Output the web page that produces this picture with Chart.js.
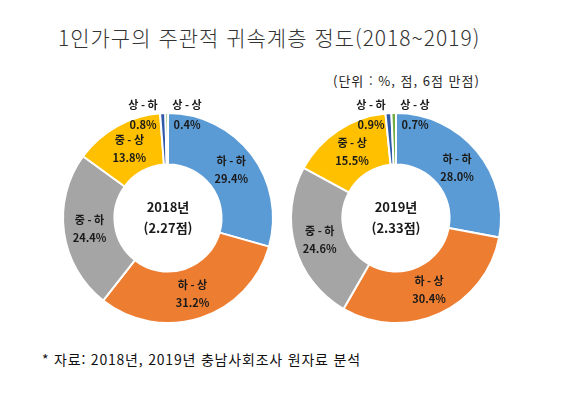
<!DOCTYPE html>
<html lang="ko">
<head>
<meta charset="utf-8">
<script src="https://cdn.jsdelivr.net/npm/chart.js@4.4.1/dist/chart.umd.min.js"></script>
<style>
  html, body { margin: 0; padding: 0; background: #fff; }
  body { width: 567px; height: 396px; position: relative; overflow: hidden;
         font-family: "Noto Sans CJK KR", "Noto Sans", sans-serif; }
  .title { position: absolute; left: 58px; top: 22px; font-weight: 300;
           font-size: 21px; color: #333; letter-spacing: 1px; white-space: nowrap; }
  .unit { position: absolute; left: 333px; top: 71px; font-size: 13px; color: #222;
          letter-spacing: 1px; white-space: nowrap; }
  .note { position: absolute; left: 42px; top: 349px; font-size: 14px; color: #111;
          letter-spacing: 0.8px; white-space: nowrap; }
  .pie { position: absolute; top: 88px; width: 260px; height: 260px; }
</style>
</head>
<body>
<div class="title">1인가구의 주관적 귀속계층 정도(2018~2019)</div>
<div class="unit">(단위 : %, 점, 6점 만점)</div>
<div class="pie" style="left:38px"><canvas id="pie2018" width="260" height="260"></canvas></div>
<div class="pie" style="left:266px"><canvas id="pie2019" width="260" height="260"></canvas></div>
<div class="note">* 자료: 2018년, 2019년 충남사회조사 원자료 분석</div>

<script>
// 계층 구분 (12시 방향부터 시계방향)
const CLASSES = ['하 - 하', '하 - 상', '중 - 하', '중 - 상', '상 - 하', '상 - 상'];
const COLORS = ['#5b9bd5', '#ed7d31', '#a5a5a5', '#ffc000', '#2f5aa8', '#70ad47'];

const VALUES_2018 = [29.4, 31.2, 24.4, 13.8, 0.8, 0.4];
const VALUES_2019 = [28.0, 30.4, 24.6, 15.5, 0.9, 0.7];

const CENTER_2018 = ['2018년', '(2.27점)'];
const CENTER_2019 = ['2019년', '(2.33점)'];

const LABEL_FONT = 'bold 11px "Noto Sans CJK KR", sans-serif';

// 조각 라벨 + 가운데 텍스트
const donutLabels = {
  id: 'donutLabels',
  afterDatasetsDraw(chart, args, opts) {
    const { ctx } = chart;
    const meta = chart.getDatasetMeta(0);
    const values = chart.data.datasets[0].data;
    const last = values.length - 1;
    ctx.save();
    ctx.textAlign = 'center';
    ctx.textBaseline = 'middle';
    ctx.fillStyle = '#1a1a1a';
    ctx.font = LABEL_FONT;
    meta.data.forEach((arc, i) => {
      const label = chart.data.labels[i];
      const pct = values[i].toFixed(1) + '%';
      if (values[i] >= 3) {
        const p = arc.tooltipPosition();
        ctx.fillText(label, p.x, p.y - 9);
        ctx.fillText(pct, p.x, p.y + 9);
      } else {
        // 작은 조각은 위쪽 바깥에 배치
        const x = arc.x + (i === last ? 19 : -25);
        const y = arc.y - arc.outerRadius - 8;
        ctx.fillText(label, x, y);
        ctx.fillText(pct, x, y + 20);
      }
    });
    const c = meta.data[0];
    ctx.font = 'bold 13px "Noto Sans CJK KR", sans-serif';
    ctx.fillText(opts.center[0], c.x, c.y - 11);
    ctx.fillText(opts.center[1], c.x, c.y + 10);
    ctx.restore();
  },
};

function renderDonut(id, values, center) {
  return new Chart(document.getElementById(id), {
    type: 'doughnut',
    data: {
      labels: CLASSES,
      datasets: [{ data: values, backgroundColor: COLORS, borderColor: '#fff', borderWidth: 2 }],
    },
    options: {
      responsive: false, animation: false, cutout: '51%',
      layout: { padding: 24 },
      plugins: { legend: { display: false }, tooltip: { enabled: false }, donutLabels: { center } },
    },
    plugins: [donutLabels],
  });
}

renderDonut('pie2018', VALUES_2018, CENTER_2018);
renderDonut('pie2019', VALUES_2019, CENTER_2019);
</script>
</body>
</html>
